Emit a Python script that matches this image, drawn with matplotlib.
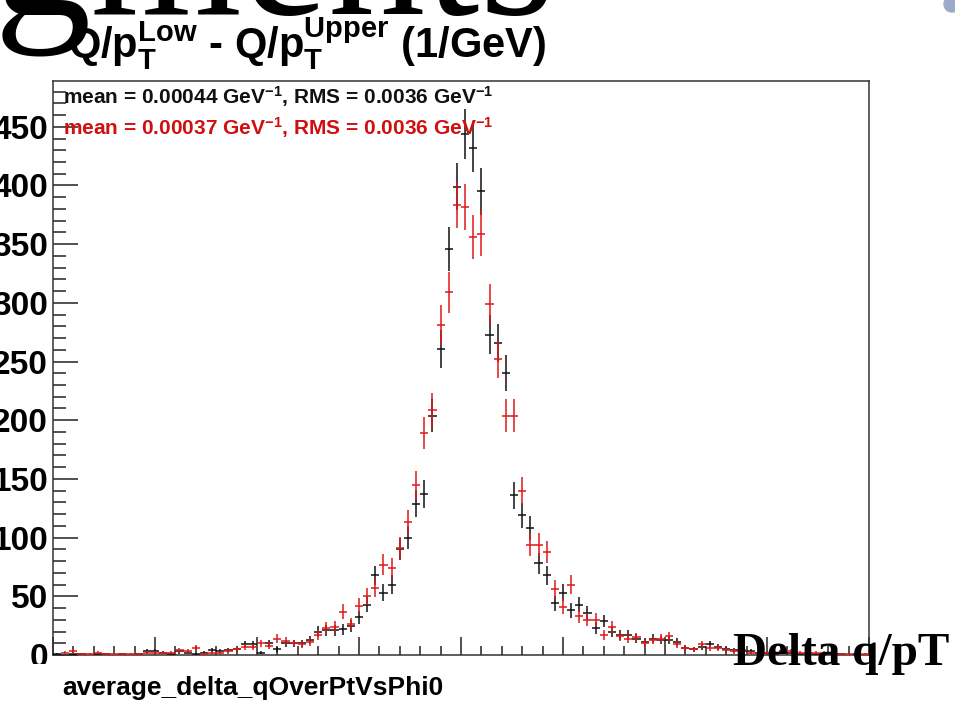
import numpy as np
import matplotlib
matplotlib.use("Agg")
import matplotlib.pyplot as plt
from matplotlib.patches import Rectangle, Ellipse
from matplotlib.ticker import MultipleLocator

plt.rcParams["font.family"] = ["Liberation Sans", "DejaVu Sans"]
plt.rcParams["font.weight"] = "bold"
plt.rcParams["mathtext.fontset"] = "custom"
plt.rcParams["mathtext.rm"] = "Liberation Sans:bold"
plt.rcParams["mathtext.bf"] = "Liberation Sans:bold"
plt.rcParams["mathtext.it"] = "Liberation Sans:bold"
plt.rcParams["mathtext.default"] = "rm"

# histogram binning (delta q/pT, 1/GeV)
x_min, x_max, n_bins = -0.02, 0.02, 100

black_counts = [
    1, 0, 1, 1, 0, 1, 1, 0, 1, 0,
    1, 3, 3, 2, 1, 3, 2, 1, 2, 4,
    3, 4, 5, 9, 9, 2, 10, 5, 10, 10,
    10, 13, 20, 21, 21, 22, 25, 32, 43, 68,
    53, 60, 90, 100, 129, 137, 204, 261, 346, 399,
    444, 432, 395, 273, 266, 240, 136, 119, 108, 78,
    68, 44, 53, 38, 43, 36, 23, 29, 20, 17,
    17, 14, 11, 14, 13, 13, 11, 6, 5, 7,
    9, 7, 5, 4, 3, 3, 2, 2, 1, 3,
    2, 1, 2, 1, 1, 1, 1, 0, 1, 0,
]
red_counts = [
    0, 2, 3, 1, 1, 2, 1, 1, 1, 1,
    1, 2, 2, 2, 2, 4, 3, 6, 1, 2,
    2, 3, 5, 7, 7, 10, 8, 14, 12, 10,
    9, 11, 17, 23, 24, 37, 26, 42, 50, 57,
    77, 74, 91, 113, 145, 189, 209, 281, 309, 383,
    382, 356, 359, 299, 252, 204, 204, 140, 94, 94,
    88, 56, 41, 60, 33, 30, 30, 17, 24, 16,
    14, 15, 10, 13, 14, 16, 9, 6, 5, 9,
    6, 6, 4, 3, 4, 2, 1, 2, 2, 3,
    3, 2, 2, 2, 2, 0, 1, 1, 0, 1,
]

black_label = r"mean = 0.00044 GeV$^{-1}$, RMS = 0.0036 GeV$^{-1}$"
red_label = r"mean = 0.00037 GeV$^{-1}$, RMS = 0.0036 GeV$^{-1}$"
title = r"Q/p$_{T}^{Low}$ - Q/p$_{T}^{Upper}$ (1/GeV)"
x_title = "average_delta_qOverPtVsPhi0"
x_ticks = [-0.02, -0.015, -0.01, -0.005, 0, 0.005, 0.01, 0.015, 0.02]
x_tick_labels = ["-0.02", "-0.015", "-0.01", "-0.005", "0", "0.005", "0.01", "0.015", "0.02"]
y_ticks = [0, 50, 100, 150, 200, 250, 300, 350, 400, 450]

W, H = 955, 714
figure = plt.figure(figsize=(W / 100, H / 100), dpi=100)
axis = figure.add_axes([53 / W, 1 - 655 / H, 816 / W, 574 / H])

edges = np.linspace(x_min, x_max, n_bins + 1)
centers = 0.5 * (edges[:-1] + edges[1:])
half_width = 0.5 * (edges[1] - edges[0])

for counts, color in ((black_counts, "#111111"), (red_counts, "#e01818")):
    counts = np.asarray(counts, dtype=float)
    keep = counts > 0
    axis.errorbar(
        centers[keep],
        counts[keep],
        xerr=half_width,
        yerr=np.sqrt(counts[keep]),
        fmt="none",
        ecolor=color,
        elinewidth=1.1,
        capsize=0,
        zorder=3,
    )

axis.set_xlim(x_min, x_max)
axis.set_ylim(0, 489)
axis.set_xticks(x_ticks)
axis.set_xticklabels(x_tick_labels)
axis.set_yticks(y_ticks)
axis.xaxis.set_minor_locator(MultipleLocator(0.001))
axis.yaxis.set_minor_locator(MultipleLocator(10))
axis.tick_params(axis="both", which="both", direction="in", color="#222222", width=1.1)
axis.tick_params(axis="x", which="major", length=13, labelsize=20, pad=6)
axis.tick_params(axis="x", which="minor", length=6.5)
axis.tick_params(axis="y", which="major", length=18, labelsize=24, pad=3.5)
axis.tick_params(axis="y", which="minor", length=9.5)
for spine in axis.spines.values():
    spine.set_color("#333333")
    spine.set_linewidth(1.1)

# labels inside the frame
figure.text(63 / W, 1 - 97 / H, black_label, color="#111111", fontsize=15,
            fontweight="bold", va="center", ha="left")
figure.text(63 / W, 1 - 128 / H, red_label, color="#d01010", fontsize=15,
            fontweight="bold", va="center", ha="left", zorder=4)

# title above the frame
figure.text(68 / W, 1 - 59 / H, title, fontsize=30, fontweight="bold",
            ha="left", va="baseline")

# slide remnants: cropped heading and logo
figure.text(-6 / W, 1 - 13 / H, "gments", fontsize=140, family="Liberation Serif",
            fontweight="normal", ha="left", va="baseline")
figure.add_artist(Ellipse((952 / W, 1 - 4 / H), 16 / W, 16 / H, color="#9aaac8",
                          transform=figure.transFigure))

# the slide covers most of the x tick labels
figure.add_artist(Rectangle((0, 0), 1, 1 - 664 / H, transform=figure.transFigure,
                            facecolor="white", edgecolor="none", zorder=5))
figure.text(62 / W, 1 - 688 / H, x_title, fontsize=19, fontweight="bold",
            ha="left", va="center", zorder=6)
figure.text(733 / W, 1 - 665 / H, "Delta q/pT", fontsize=34, family="Liberation Serif",
            fontweight="bold", ha="left", va="baseline", zorder=6)

figure.savefig("out.png", dpi=100)
plt.close(figure)
